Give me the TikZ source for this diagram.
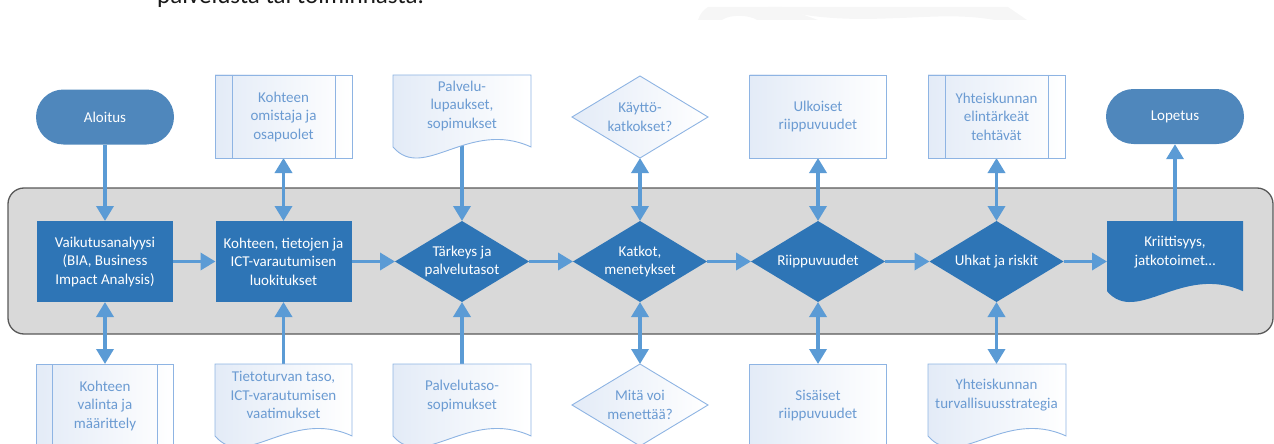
\documentclass[tikz,border=0pt]{standalone}
\usepackage{fontspec}
\setmainfont{Carlito}
\usetikzlibrary{arrows.meta,shapes.geometric,shapes.misc,calc}

\definecolor{mainblue}{HTML}{2E75B6}
\definecolor{capblue}{HTML}{4F87BC}
\definecolor{arrowblue}{HTML}{5B9BD5}
\definecolor{lightline}{HTML}{8EB4E3}
\definecolor{lighttext}{HTML}{6B9BD2}
\definecolor{lightfill}{HTML}{E3EBF7}
\definecolor{bandfill}{HTML}{D9D9D9}
\definecolor{bandline}{HTML}{595959}
\definecolor{ghost}{HTML}{F6F6F6}

\pgfdeclarelayer{base}
\pgfdeclarelayer{links}
\pgfsetlayers{base,links,main}

% document symbol: flat top, wavy bottom edge
% #1 style, #2 left, #3 top, #4 width, #5 height
\newcommand{\wavedoc}[5]{%
  \path[#1] (#2,#3) -- ({#2+#4},#3) -- ({#2+#4},{#3+0.867*#5})
    .. controls ({#2+0.55*#4},{#3+0.525*#5}) and ({#2+0.22*#4},{#3+1.295*#5})
    .. (#2,{#3+0.867*#5}) -- cycle;}

\begin{document}
\begin{tikzpicture}[x=1pt,y=-1pt,
  txt/.style={font=\fontsize{15}{18.5}\selectfont, align=center, inner sep=0pt},
  maintext/.style={txt, text=white},
  sidetext/.style={txt, text=lighttext},
  frame/.style={rectangle, inner sep=0pt, outer sep=0pt, minimum width=137, minimum height=83},
  lightshape/.style={draw=lightline, line width=0.9pt, left color=lightfill, right color=white},
  blueshape/.style={fill=mainblue, draw=none},
  lightbox/.style={frame, lightshape},
  bluebox/.style={frame, blueshape, maintext, minimum width=136, minimum height=81},
  lightdiamond/.style={diamond, aspect=1.65, inner sep=0pt, outer sep=0pt,
    minimum width=136, minimum height=82, lightshape},
  bluediamond/.style={diamond, aspect=1.65, inner sep=0pt, outer sep=0pt,
    minimum width=134, minimum height=81, blueshape},
  capsule/.style={rounded rectangle, minimum width=138, minimum height=55,
    inner sep=0pt, fill=capblue, draw=none, maintext},
  band/.style={rectangle, rounded corners=16pt, draw=bandline, line width=1.3pt,
    fill=bandfill, minimum width=1265, minimum height=146},
  arr/.style={draw=arrowblue, line width=3.5pt, -{Triangle[length=15pt,width=17pt]}},
  darr/.style={draw=arrowblue, line width=3.5pt,
    {Triangle[length=15pt,width=17pt]}-{Triangle[length=15pt,width=17pt]}},
  procline/.style={draw=lightline, line width=0.9pt}
]
\useasboundingbox (0,0) rectangle (1274,444);

% heading line running off the top edge
\node[anchor=base west, font=\fontsize{25}{30}\selectfont, text=black!90, inner sep=0pt]
  (heading) at (157,3.5) {palvelusta tai toiminnasta.};

\begin{pgfonlayer}{base}
  % faint backdrop shapes
  \fill[ghost] (698,20) .. controls (700,14) and (703,10) .. (708,7) -- (782,7) -- (818,20)
    -- (757,20) .. controls (750,15) and (730,14) .. (722,20) -- cycle;
  \fill[ghost] (768,7) -- (1008,7) -- (1027,20) -- (995,20)
    .. controls (960,14) and (930,17) .. (900,18)
    .. controls (870,19) and (820,22) .. (768,7) -- cycle;
  % process lane
  \node[band] (lane) at (640.5,261) {};
\end{pgfonlayer}

% ---- upper row ----
\node[capsule] (start) at (105,117) {Aloitus};

\node[lightbox] (t1) at (283.5,116.5) {};
\draw[procline] ($(t1.north west)+(17,0)$) -- ($(t1.south west)+(17,0)$);
\draw[procline] ($(t1.north east)+(-17,0)$) -- ($(t1.south east)+(-17,0)$);
\node[sidetext] (t1txt) at (t1) {Kohteen\\omistaja ja\\osapuolet};

\node[frame] (t2) at (462,116.5) {};
\wavedoc{lightshape}{393}{75}{138}{83}
\node[sidetext] (t2txt) at ($(t2.north)+(0,31)$) {Palvelu-\\lupaukset,\\sopimukset};

\node[lightdiamond] (t3) at (640,117) {};
\node[sidetext] (t3txt) at (t3) {Käyttö-\\katkokset?};

\node[lightbox] (t4) at (818,116.5) {};
\node[sidetext] (t4txt) at (t4) {Ulkoiset\\riippuvuudet};

\node[lightbox] (t5) at (996.5,116.5) {};
\draw[procline] ($(t5.north west)+(17,0)$) -- ($(t5.south west)+(17,0)$);
\draw[procline] ($(t5.north east)+(-17,0)$) -- ($(t5.south east)+(-17,0)$);
\node[sidetext] (t5txt) at (t5) {Yhteiskunnan\\elintärkeät\\tehtävät};

\node[capsule] (stop) at (1175,116.5) {Lopetus};

% ---- process steps ----
\node[bluebox] (m1) at (105,261.5) {Vaikutusanalyysi\\(BIA, Business\\Impact Analysis)};
\node[bluebox] (m2) at (283.5,261.5) {Kohteen, tietojen ja\\ICT-varautumisen\\luokitukset};
\node[bluediamond] (m3) at (462,261.5) {};
\node[maintext] (m3txt) at (m3) {Tärkeys ja\\palvelutasot};
\node[bluediamond] (m4) at (640,261.5) {};
\node[maintext] (m4txt) at (m4) {Katkot,\\menetykset};
\node[bluediamond] (m5) at (818,261.5) {};
\node[maintext] (m5txt) at (m5) {Riippuvuudet};
\node[bluediamond] (m6) at (996.5,261.5) {};
\node[maintext] (m6txt) at (m6) {Uhkat ja riskit};
\node[frame, minimum width=136, minimum height=81] (m7) at (1175,261.5) {};
\wavedoc{blueshape}{1107}{221}{136}{81}
\node[maintext] (m7txt) at ($(m7.north)+(0,31)$) {Kriittisyys,\\jatkotoimet…};

% ---- lower row ----
\node[lightbox] (b1) at (105,405.5) {};
\draw[procline] ($(b1.north west)+(16,0)$) -- ($(b1.south west)+(16,0)$);
\draw[procline] ($(b1.north east)+(-16,0)$) -- ($(b1.south east)+(-16,0)$);
\node[sidetext] (b1txt) at (b1) {Kohteen\\valinta ja\\määrittely};

\node[frame] (b2) at (283.5,405.5) {};
\wavedoc{lightshape}{215}{364}{137}{83}
\node[sidetext] (b2txt) at ($(b2.north)+(0,31)$) {Tietoturvan taso,\\ICT-varautumisen\\vaatimukset};

\node[frame] (b3) at (462,405.5) {};
\wavedoc{lightshape}{393}{364}{138}{83}
\node[sidetext] (b3txt) at ($(b3.north)+(0,32)$) {Palvelutaso-\\sopimukset};

\node[lightdiamond] (b4) at (640,405) {};
\node[sidetext] (b4txt) at (b4) {Mitä voi\\menettää?};

\node[lightbox] (b5) at (818,405.5) {};
\node[sidetext] (b5txt) at (b5) {Sisäiset\\riippuvuudet};

\node[frame] (b6) at (996.5,405.5) {};
\wavedoc{lightshape}{928}{364}{138}{83}
\node[sidetext] (b6txt) at ($(b6.north)+(0,31)$) {Yhteiskunnan\\turvallisuusstrategia};

% ---- connectors ----
\begin{pgfonlayer}{links}
  \draw[arr]  (start.south) -- (m1.north);
  \draw[darr] (t1.south) -- (m2.north);
  \draw[arr]  (t2.center) -- (m3.north);
  \draw[darr] (t3.south) -- (m4.north);
  \draw[darr] (t4.south) -- (m5.north);
  \draw[darr] (t5.south) -- (m6.north);
  \draw[arr]  (m7.center) -- (stop.south);

  \draw[arr] (m1.east) -- (m2.west);
  \draw[arr] (m2.east) -- (m3.west);
  \draw[arr] (m3.east) -- (m4.west);
  \draw[arr] (m4.east) -- (m5.west);
  \draw[arr] (m5.east) -- (m6.west);
  \draw[arr] (m6.east) -- (m7.west);

  \draw[darr] (m1.south) -- (b1.north);
  \draw[arr]  (b2.center) -- (m2.south);
  \draw[arr]  (b3.center) -- (m3.south);
  \draw[darr] (m4.south) -- (b4.north);
  \draw[darr] (m5.south) -- (b5.north);
  \draw[darr] (m6.south) -- (b6.north);
\end{pgfonlayer}
\end{tikzpicture}
\end{document}
